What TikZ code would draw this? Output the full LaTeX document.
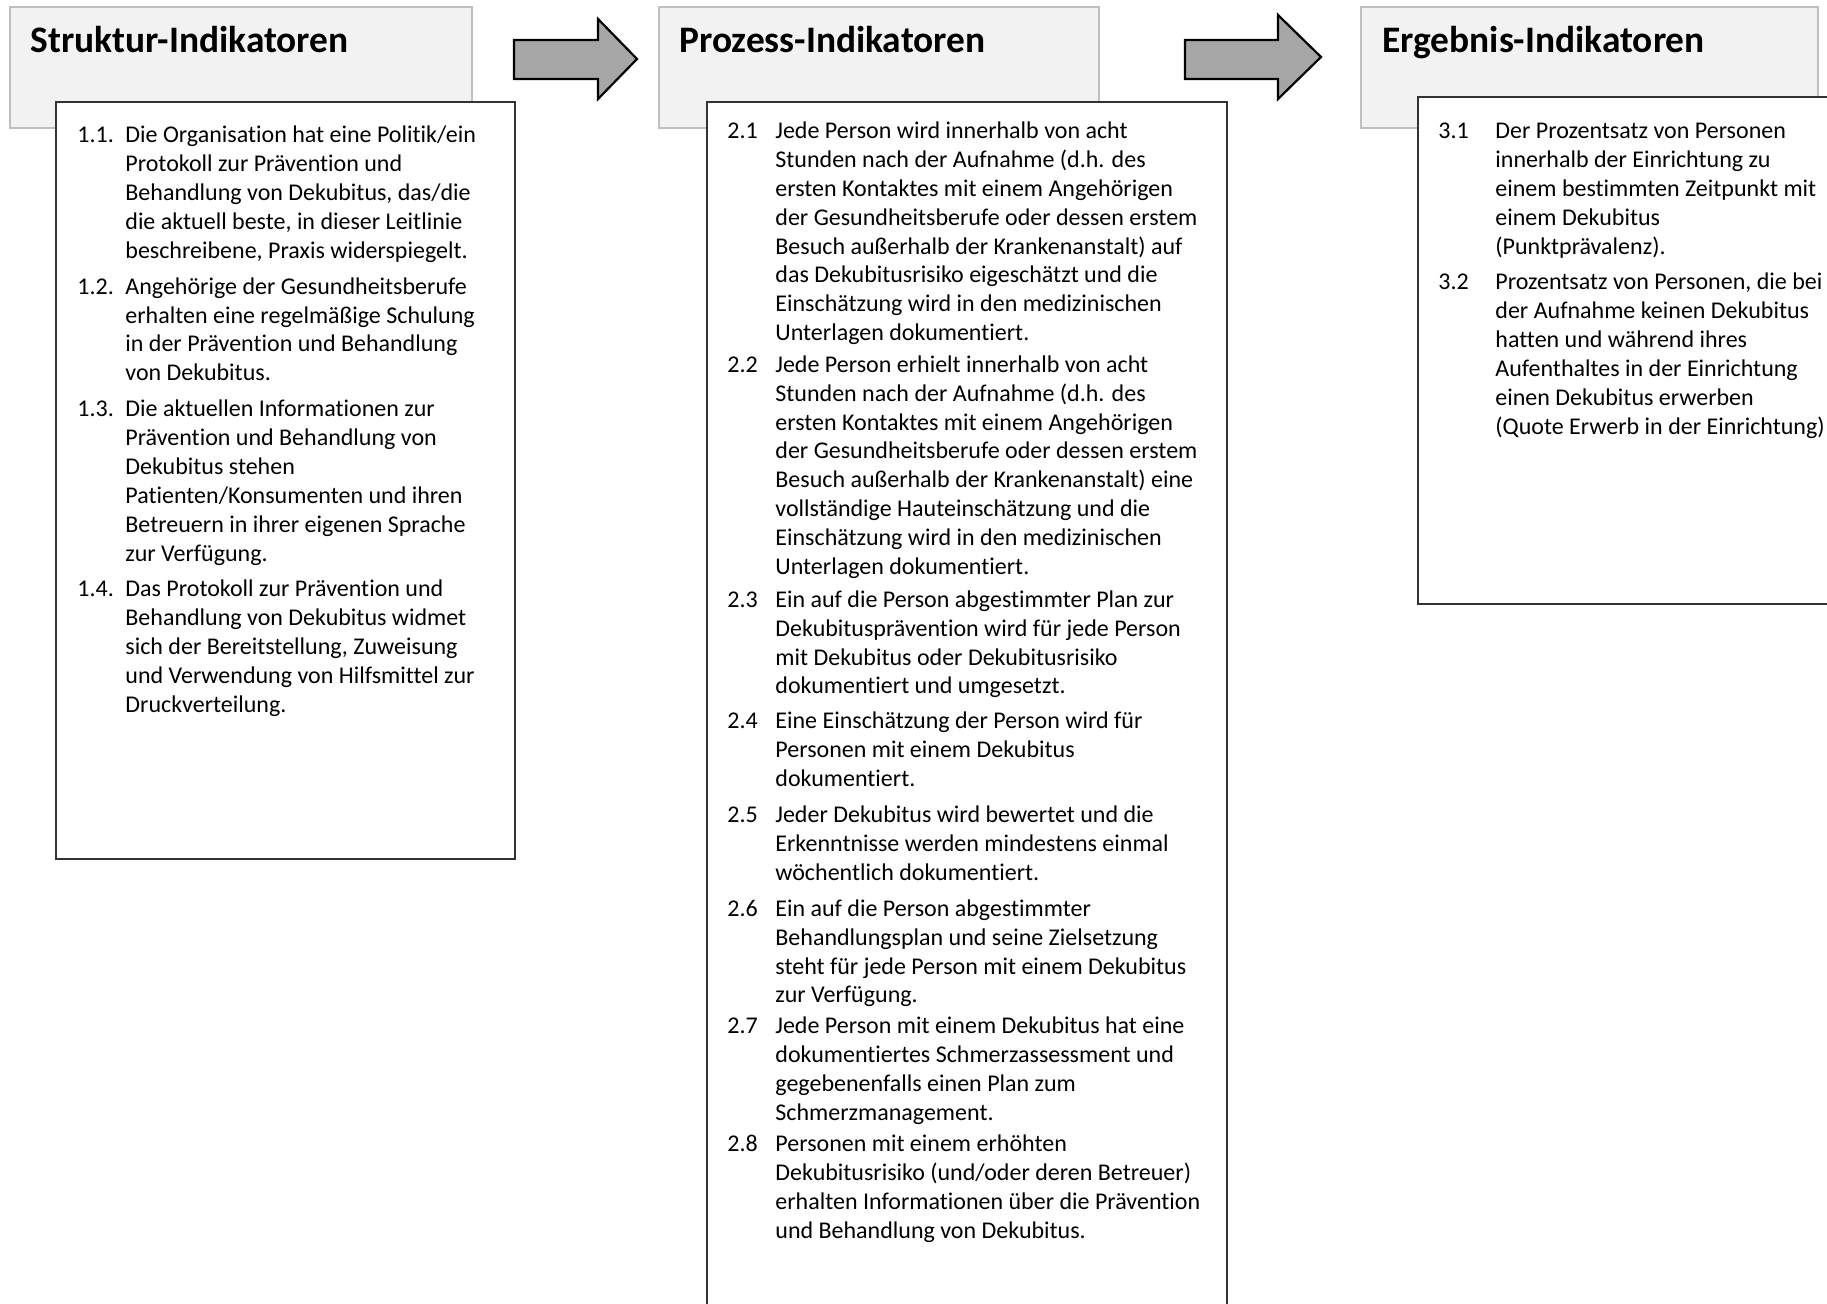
\documentclass[tikz,border=0pt]{standalone}
\usepackage{fontspec}
\setmainfont{Carlito}[Ligatures=NoCommon]
\usepackage{array}
\definecolor{headgray}{HTML}{F2F2F2}
\definecolor{linegray}{HTML}{BFBFBF}
\definecolor{arrowgray}{HTML}{A6A6A6}
\begin{document}
\begin{tikzpicture}[x=0.5pt,y=-0.5pt,
  headbox/.style={fill=headgray,draw=linegray,line width=0.7pt},
  listbox/.style={fill=white,draw=black!80,line width=0.75pt},
  blockarrow/.style={fill=arrowgray,draw=black,line width=1.1pt,line join=miter},
  headtext/.style={anchor=base west,inner sep=0pt,font=\fontsize{18.7pt}{22pt}\selectfont\bfseries},
  listtext/.style={anchor=base west,inner sep=0pt,font=\fontsize{12pt}{14.45pt}\selectfont}]
\useasboundingbox (0,0) rectangle (1827,1304);
\clip (0,0) rectangle (1827,1304);
% grey title boxes
\filldraw[headbox] (10,7) rectangle (472,128);
\filldraw[headbox] (659,7) rectangle (1099,128);
\filldraw[headbox] (1361,7) rectangle (1818,128);
\node[headtext] (struktur) at (30,53) {Struktur-Indikatoren};
\node[headtext] (prozess) at (679,53) {Prozess-Indikatoren};
\node[headtext] (ergebnis) at (1382,53) {Ergebnis-Indikatoren};
% block arrows
\filldraw[blockarrow] (514,40) -- (598,40) -- (598,19) -- (637,59) -- (598,99) -- (598,79) -- (514,79) --cycle;
\filldraw[blockarrow] (1185,40) -- (1278,40) -- (1278,15) -- (1321,57) -- (1278,99) -- (1278,79) -- (1185,79) --cycle;
% white list boxes
\filldraw[listbox] (56,102) rectangle (515,859);
\filldraw[listbox] (707,102) rectangle (1227,1340);
\filldraw[listbox] (1418,97) rectangle (1860,604);
% list 1
\node[listtext] (liste1) at (77,142.5) {\begin{tabular}[t]{@{}p{24pt}@{}l@{}}
1.1. & Die Organisation hat eine Politik/ein\\
 & Protokoll zur Prävention und\\
 & Behandlung von Dekubitus, das/die\\
 & die aktuell beste, in dieser Leitlinie\\
 & beschreibene, Praxis widerspiegelt.\\[3.6pt]
1.2. & Angehörige der Gesundheitsberufe\\
 & erhalten eine regelmäßige Schulung\\
 & in der Prävention und Behandlung\\
 & von Dekubitus.\\[3.4pt]
1.3. & Die aktuellen Informationen zur\\
 & Prävention und Behandlung von\\
 & Dekubitus stehen\\
 & Patienten/Konsumenten und ihren\\
 & Betreuern in ihrer eigenen Sprache\\
 & zur Verfügung.\\[3.4pt]
1.4. & Das Protokoll zur Prävention und\\
 & Behandlung von Dekubitus widmet\\
 & sich der Bereitstellung, Zuweisung\\
 & und Verwendung von Hilfsmittel zur\\
 & Druckverteilung.
\end{tabular}};
% list 2
\node[listtext] (liste2) at (727,138.5) {\begin{tabular}[t]{@{}p{24pt}@{}l@{}}
2.1 & Jede Person wird innerhalb von acht\\
 & Stunden nach der Aufnahme (d.h. des\\
 & ersten Kontaktes mit einem Angehörigen\\
 & der Gesundheitsberufe oder dessen erstem\\
 & Besuch außerhalb der Krankenanstalt) auf\\
 & das Dekubitusrisiko eigeschätzt und die\\
 & Einschätzung wird in den medizinischen\\
 & Unterlagen dokumentiert.\\[1.3pt]
2.2 & Jede Person erhielt innerhalb von acht\\
 & Stunden nach der Aufnahme (d.h. des\\
 & ersten Kontaktes mit einem Angehörigen\\
 & der Gesundheitsberufe oder dessen erstem\\
 & Besuch außerhalb der Krankenanstalt) eine\\
 & vollständige Hauteinschätzung und die\\
 & Einschätzung wird in den medizinischen\\
 & Unterlagen dokumentiert.\\[1.9pt]
2.3 & Ein auf die Person abgestimmter Plan zur\\
 & Dekubitusprävention wird für jede Person\\
 & mit Dekubitus oder Dekubitusrisiko\\
 & dokumentiert und umgesetzt.\\[3pt]
2.4 & Eine Einschätzung der Person wird für\\
 & Personen mit einem Dekubitus\\
 & dokumentiert.\\[3.5pt]
2.5 & Jeder Dekubitus wird bewertet und die\\
 & Erkenntnisse werden mindestens einmal\\
 & wöchentlich dokumentiert.\\[3.5pt]
2.6 & Ein auf die Person abgestimmter\\
 & Behandlungsplan und seine Zielsetzung\\
 & steht für jede Person mit einem Dekubitus\\
 & zur Verfügung.\\[1pt]
2.7 & Jede Person mit einem Dekubitus hat eine\\
 & dokumentiertes Schmerzassessment und\\
 & gegebenenfalls einen Plan zum\\
 & Schmerzmanagement.\\[1pt]
2.8 & Personen mit einem erhöhten\\
 & Dekubitusrisiko (und/oder deren Betreuer)\\
 & erhalten Informationen über die Prävention\\
 & und Behandlung von Dekubitus.
\end{tabular}};
% list 3
\node[listtext] (liste3) at (1438,138.5) {\begin{tabular}[t]{@{}p{28.5pt}@{}l@{}}
3.1 & Der Prozentsatz von Personen\\
 & innerhalb der Einrichtung zu\\
 & einem bestimmten Zeitpunkt mit\\
 & einem Dekubitus\\
 & (Punktprävalenz).\\[3.5pt]
3.2 & Prozentsatz von Personen, die bei\\
 & der Aufnahme keinen Dekubitus\\
 & hatten und während ihres\\
 & Aufenthaltes in der Einrichtung\\
 & einen Dekubitus erwerben\\
 & (Quote Erwerb in der Einrichtung)
\end{tabular}};
\end{tikzpicture}
\end{document}
